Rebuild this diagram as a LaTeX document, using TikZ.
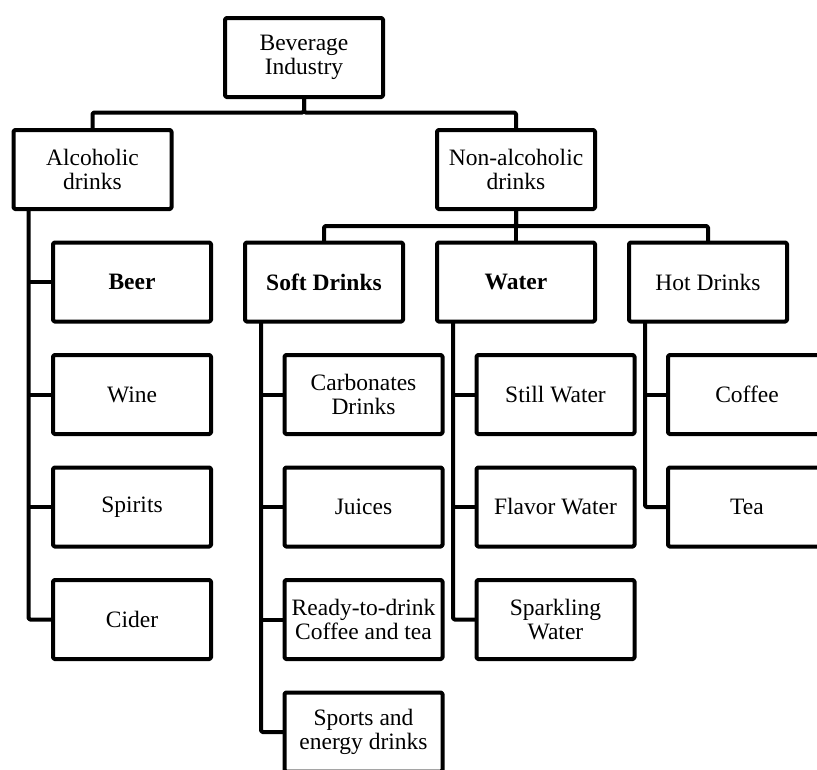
\documentclass[tikz,border=0pt]{standalone}
\usepackage{fontspec}
\setmainfont{Liberation Serif}
\begin{document}
\begin{tikzpicture}[x=1pt,y=-1pt,
  box/.style={draw, line width=4pt, line join=round, rounded corners=1.5pt,
    minimum width=158pt, minimum height=79pt, inner sep=0pt, outer sep=0pt,
    align=center, font=\fontsize{23.5}{24}\selectfont},
  link/.style={line width=4pt, line join=round, rounded corners=1.5pt}]
\clip (0,0) rectangle (817,769);
\fill[white] (0,0) rectangle (817,769);

% top levels
\node[box] (bev) at (304,57.5) {Beverage\\Industry};
\node[box] (alc) at (92.5,169.5) {Alcoholic\\drinks};
\node[box] (non) at (516,169.5) {Non-alcoholic\\drinks};

% categories of non-alcoholic drinks
\node[box] (soft) at (324,282) {\bfseries Soft Drinks};
\node[box] (water) at (516,282) {\bfseries Water};
\node[box] (hot) at (708,282) {Hot Drinks};

% alcoholic drinks
\node[box] (beer) at (132,282) {\bfseries Beer};
\node[box] (wine) at (132,394.5) {Wine};
\node[box] (spirits) at (132,507) {Spirits};
\node[box] (cider) at (132,619.5) {Cider};

% soft drinks
\node[box] (carb) at (363.5,394.5) {Carbonates\\Drinks};
\node[box] (juice) at (363.5,507) {Juices};
\node[box] (rtd) at (363.5,619.5) {Ready-to-drink\\Coffee and tea};
\node[box] (sport) at (363.5,732) {Sports and\\energy drinks};

% water
\node[box] (still) at (555.5,394.5) {Still Water};
\node[box] (flavor) at (555.5,507) {Flavor Water};
\node[box] (spark) at (555.5,619.5) {Sparkling\\Water};

% hot drinks
\node[box] (coffee) at (747,394.5) {Coffee};
\node[box] (tea) at (747,507) {Tea};

% connectors
\draw[link] (bev.south) -- ++(0,15.5) -| (alc.north);
\draw[link] (bev.south) -- ++(0,15.5) -| (non.north);
\draw[link] (non.south) -- ++(0,17) -| (soft.north);
\draw[link] (non.south) -- ++(0,17) -| (hot.north);
\draw[link] (non.south) -- (water.north);

\draw[link] ([xshift=15pt]alc.south west) |- (cider.west);
\foreach \n in {beer,wine,spirits} \draw[link] (\n.west) -- ++(-23,0);

\draw[link] ([xshift=16pt]soft.south west) |- (sport.west);
\foreach \n in {carb,juice,rtd} \draw[link] (\n.west) -- ++(-23,0);

\draw[link] ([xshift=16pt]water.south west) |- (spark.west);
\foreach \n in {still,flavor} \draw[link] (\n.west) -- ++(-23,0);

\draw[link] ([xshift=16pt]hot.south west) |- (tea.west);
\draw[link] (coffee.west) -- ++(-23,0);
\end{tikzpicture}
\end{document}
